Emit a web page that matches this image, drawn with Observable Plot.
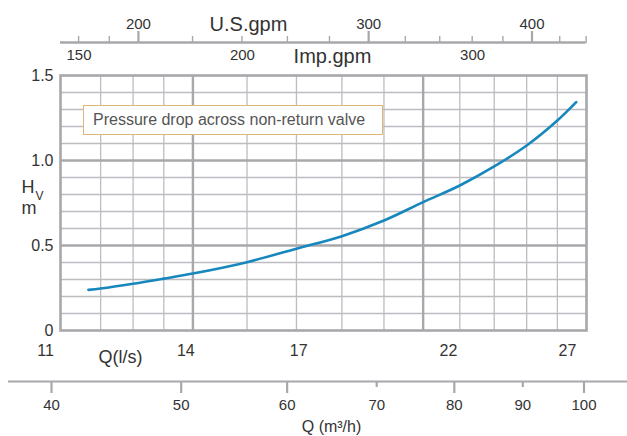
<!DOCTYPE html>
<html><head><meta charset="utf-8">
<script src="https://cdn.jsdelivr.net/npm/d3@7"></script>
<script src="https://cdn.jsdelivr.net/npm/@observablehq/plot@0.6"></script>
<style>
body{margin:0;background:#fff;}
#chart{position:relative;width:627px;height:436px;font-family:"Liberation Sans",Arial,sans-serif;}
#chart svg{display:block;}
.note{position:absolute;left:83px;top:105px;width:289px;height:28px;border:1.5px solid #dcb775;background:#fff;color:#555;font-size:16px;line-height:28px;padding-left:9px;white-space:nowrap;z-index:2;}
</style></head><body><div id="chart"><div class="note">Pressure drop across non-return valve</div></div>
<script>
// ---- data ----
const curveQ = [41.6, 42.5, 45, 47.5, 50, 55, 60, 65, 70, 75, 80, 85, 90, 95, 98.2];      // m3/h
const curveH = [0.239, 0.247, 0.275, 0.305, 0.335, 0.402, 0.481, 0.555, 0.647, 0.755, 0.853, 0.965, 1.088, 1.235, 1.343]; // m
const gridQMinor = [42.5, 45, 47.5, 55, 60, 65, 70, 80, 85, 90, 95];   // m3/h
const gridQMajor = [50, 75];
const gridHMinor = [0.1, 0.2, 0.3, 0.4, 0.6, 0.7, 0.8, 0.9, 1.1, 1.2, 1.3, 1.4];
const gridHMajor = [0.5, 1.0];
const yTicks = [0, 0.5, 1.0, 1.5];
const usGpmMinor = [180, 190, 220, 240, 260, 280, 320, 340, 360, 380, 420, 440];
const usGpmMajor = [200, 300, 400];
const impGpmLabels = [150, 200, 300];
const qLsLabels = [11, 14, 17, 22, 27];
const qM3hMajor = [40, 50, 60, 80, 100];
const qM3hMinor = [70, 90];

// ---- unit conversions ----
const M3H_PER_LS = 3.6, M3H_PER_USGPM = 0.2271247, M3H_PER_IMPGPM = 0.2727655;
const xMin = 11 * M3H_PER_LS;

const frameGray = "#a8a8ac", gridGray = "#bdbdc1", textColor = "#333";
const font = {fontFamily: "'Liberation Sans', Arial, sans-serif", fontSize: "15px", color: textColor, background: "transparent", overflow: "visible"};
const curve = curveQ.map((q, i) => ({q, h: curveH[i]}));

const main = Plot.plot({
  width: 627, height: 340,
  marginTop: 75, marginBottom: 10, marginLeft: 60, marginRight: 41,
  style: font,
  x: {type: "log", domain: [xMin, 100]},
  y: {domain: [0, 1.5]},
  marks: [
    Plot.ruleX(gridQMinor, {stroke: gridGray, strokeWidth: 1.3}),
    Plot.ruleY(gridHMinor, {stroke: gridGray, strokeWidth: 1.3}),
    Plot.ruleX(gridQMajor, {stroke: frameGray, strokeWidth: 2.4}),
    Plot.ruleY(gridHMajor, {stroke: frameGray, strokeWidth: 2.4}),
    Plot.frame({stroke: frameGray, strokeWidth: 2.6}),
    Plot.line(curve, {x: "q", y: "h", stroke: "#1787bd", strokeWidth: 2.6, curve: "catmull-rom"}),
    Plot.axisY(yTicks, {tickSize: 0, tickPadding: 7, fontSize: 16, fill: textColor, label: null,
      tickFormat: d => d === 0 ? "0" : d.toFixed(1)}),
    Plot.text(["H"], {frameAnchor: "left", dx: -39, dy: -16, textAnchor: "start", fontSize: 18, fill: textColor}),
    Plot.text(["V"], {frameAnchor: "left", dx: -25, dy: -7, textAnchor: "start", fontSize: 12, fill: textColor}),
    Plot.text(["m"], {frameAnchor: "left", dx: -39, dy: 5, textAnchor: "start", fontSize: 18, fill: textColor}),
    // top axis: U.S.gpm ticks above the line, Imp.gpm labels below it
    Plot.ruleY([{y: 1.5, x1: xMin, x2: 440 * M3H_PER_USGPM}], {y: "y", x1: "x1", x2: "x2", dy: -33, stroke: frameGray, strokeWidth: 2.3}),
    Plot.axisX(usGpmMinor.map(g => g * M3H_PER_USGPM), {anchor: "top", dy: -33, tickSize: 7, stroke: frameGray, strokeWidth: 1.4, fill: "none", label: null}),
    Plot.axisX(usGpmMajor.map(g => g * M3H_PER_USGPM), {anchor: "top", dy: -33, tickSize: 12, tickPadding: 2, stroke: frameGray, strokeWidth: 2.2,
      fill: textColor, fontSize: 15, label: null, tickFormat: d => Math.round(d / M3H_PER_USGPM)}),
    Plot.text(["U.S.gpm"], {frameAnchor: "top-left", dx: 188, dy: -59, textAnchor: "middle", fontSize: 20, fill: textColor}),
    Plot.text(impGpmLabels, {x: d => d * M3H_PER_IMPGPM, frameAnchor: "top", dy: -26, fontSize: 15, fill: textColor}),
    Plot.text(["Imp.gpm"], {frameAnchor: "top-left", dx: 272, dy: -27, textAnchor: "middle", fontSize: 20, fill: textColor})
  ]
});

const bottom = Plot.plot({
  width: 627, height: 96,
  marginTop: 0, marginBottom: 55, marginLeft: 8, marginRight: 0,
  style: font,
  x: {type: "log", domain: [40, 100], range: [51, 583.5]},
  y: {domain: [0, 1], axis: null},
  marks: [
    Plot.ruleY([0], {stroke: frameGray, strokeWidth: 2.2}),
    Plot.axisX(qM3hMajor, {anchor: "bottom", tickSize: 12, tickPadding: 6, stroke: frameGray, strokeWidth: 2.2, fill: textColor, fontSize: 15, label: null}),
    Plot.axisX(qM3hMinor, {anchor: "bottom", tickSize: 6, tickPadding: 12, stroke: frameGray, strokeWidth: 2.2, fill: textColor, fontSize: 15, label: null}),
    Plot.text(qLsLabels, {x: d => d * M3H_PER_LS, frameAnchor: "top", dy: 4, fontSize: 16, fill: textColor}),
    Plot.text(["Q(l/s)"], {frameAnchor: "top-left", dx: 112, dy: 10, textAnchor: "middle", fontSize: 18, fill: textColor}),
    Plot.text(["Q (m³/h)"], {frameAnchor: "top-left", dx: 323, dy: 80, textAnchor: "middle", fontSize: 16, fill: textColor})
  ]
});

const chart = document.getElementById("chart");
chart.append(main, bottom);
</script>
</body></html>
